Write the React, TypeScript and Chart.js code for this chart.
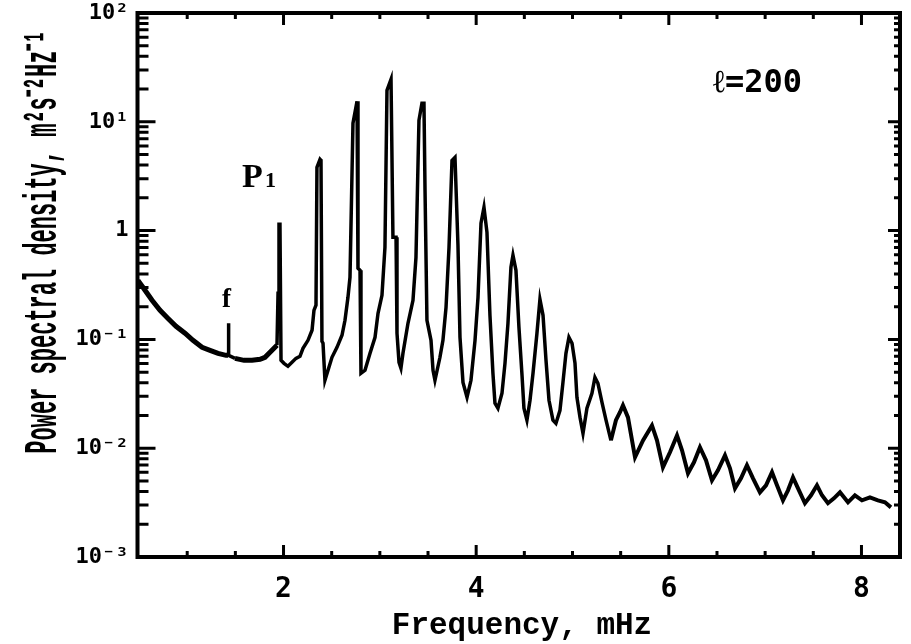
import { useEffect, useRef } from "react";
import { Chart, registerables } from "chart.js";

Chart.register(...registerables);

// Frequency (mHz) and power spectral density (m^2 s^-2 Hz^-1)
const frequency = [
  0.489, 0.562, 0.635, 0.718, 0.801, 0.884, 0.977, 1.06, 1.154, 1.237, 1.32, 1.403,
  1.424, 1.428, 1.432, 1.496, 1.59, 1.673, 1.756, 1.808, 1.86, 1.901, 1.932,
  1.943, 1.953, 1.963, 1.974, 2.005, 2.046, 2.088, 2.129, 2.171, 2.202, 2.254, 2.296,
  2.316, 2.337, 2.347, 2.379, 2.389, 2.399, 2.41, 2.43, 2.462, 2.503, 2.555, 2.607,
  2.638, 2.669, 2.69, 2.721, 2.763, 2.773, 2.794, 2.804, 2.846, 2.898, 2.95, 2.981,
  3.022, 3.053, 3.074, 3.116, 3.136, 3.168, 3.178, 3.199, 3.219, 3.24, 3.292, 3.344,
  3.375, 3.406, 3.437, 3.458, 3.469, 3.489, 3.531, 3.552, 3.572, 3.624, 3.655, 3.687,
  3.718, 3.749, 3.78, 3.811, 3.832, 3.863, 3.905, 3.946, 3.988, 4.019, 4.05, 4.081,
  4.112, 4.143, 4.174, 4.195, 4.226, 4.268, 4.299, 4.33, 4.361, 4.382, 4.413, 4.444,
  4.476, 4.496, 4.527, 4.559, 4.59, 4.631, 4.662, 4.694, 4.725, 4.756, 4.797, 4.828,
  4.87, 4.901, 4.932, 4.963, 4.995, 5.026, 5.046, 5.078, 5.109, 5.15, 5.202, 5.233,
  5.264, 5.306, 5.348, 5.399, 5.451, 5.493, 5.524, 5.576, 5.649, 5.732, 5.825, 5.877,
  5.939, 6.012, 6.085, 6.137, 6.199, 6.261, 6.323, 6.386, 6.448, 6.51, 6.583, 6.635,
  6.687, 6.749, 6.811, 6.874, 6.946, 7.009, 7.071, 7.123, 7.185, 7.237, 7.289, 7.351,
  7.413, 7.476, 7.538, 7.59, 7.652, 7.714, 7.777, 7.86, 7.932, 8.005, 8.088, 8.171,
  8.244, 8.306,
];

const psd = [
  0.349, 0.283, 0.229, 0.185, 0.156, 0.132, 0.114, 0.098, 0.0846, 0.0794, 0.0745, 0.0714,
  0.0714, 0.141, 0.0714, 0.067, 0.0642, 0.0642, 0.0656, 0.0685, 0.0761, 0.0828, 0.0883,
  0.265, 1.143, 1.143, 0.0642, 0.0603, 0.0566, 0.0616, 0.067, 0.0699, 0.0828, 0.0981, 0.1213,
  0.185, 0.206, 3.818, 4.521, 4.42, 0.096, 0.0921, 0.0421, 0.052, 0.0685, 0.0846, 0.1091,
  0.1498, 0.2437, 0.3722, 9.69, 15.43, 0.4502, 0.4316, 0.0488, 0.052, 0.0745, 0.1045, 0.1738,
  0.2543, 0.7023, 19.48, 24.58, 0.868, 0.868, 0.1138, 0.0616, 0.0543, 0.0745, 0.1406, 0.2287,
  0.5683, 10.32, 14.79, 14.79, 2.346, 0.1498, 0.0981, 0.052, 0.0421, 0.0685, 0.0981, 0.1972,
  0.7023, 4.42, 4.717, 0.7325, 0.1045, 0.0403, 0.0294, 0.0421, 0.0981, 0.2437, 1.167, 1.637,
  0.9647, 0.1665, 0.0488, 0.0259, 0.0233, 0.032, 0.0603, 0.1406, 0.4599, 0.5929, 0.4316, 0.1292,
  0.0468, 0.0233, 0.0181, 0.0276, 0.0488, 0.1138, 0.2336, 0.1665, 0.0642, 0.0276, 0.0181, 0.0169,
  0.0223, 0.0403, 0.0745, 0.1045, 0.0921, 0.0603, 0.0294, 0.0192, 0.0137, 0.0233, 0.032, 0.0448,
  0.0395, 0.0264, 0.0181, 0.0118, 0.0181, 0.0214, 0.0248, 0.0192, 0.00825, 0.0118, 0.0162, 0.0118,
  0.00668, 0.00917, 0.0131, 0.00957, 0.00588, 0.00742, 0.0102, 0.00774, 0.00507, 0.00626, 0.0086, 0.00654,
  0.00428, 0.00529, 0.00697, 0.00529, 0.00393, 0.00456, 0.00601, 0.00456, 0.00332, 0.0041, 0.0054, 0.0041,
  0.00312, 0.00369, 0.00456, 0.00369, 0.00312, 0.00346, 0.00393, 0.00318, 0.00369, 0.00332, 0.00354, 0.00332,
  0.00318, 0.00286,
];

const xMin = 0.484;
const xMax = 8.4;
const yMin = 1e-3;
const yMax = 1e2;

const xTickValues = [2, 4, 6, 8];
const xTickLabels = ["2", "4", "6", "8"];
const xMinorTicks = [1, 1.5, 2.5, 3, 3.5, 4.5, 5, 5.5, 6.5, 7, 7.5];
const yTickValues = [1e-3, 1e-2, 1e-1, 1, 10, 100];
const yTickLabels = ["10⁻³", "10⁻²", "10⁻¹", "1", "10¹", "10²"];
const yMinorMultipliers = [2, 3, 4, 5, 6, 7, 8, 9];

const yTitle = "Power spectral density, m²s⁻²Hz⁻¹";
const xTitle = "Frequency, mHz";
const degreeLabel = "ℓ=200";

const framePlugin = {
  id: "frameAndLabels",
  afterDraw(chart: any) {
    const { ctx, chartArea: a, scales } = chart;
    const xs = scales.x;
    const ys = scales.y;
    ctx.save();
    ctx.strokeStyle = "#000";
    ctx.fillStyle = "#000";
    ctx.lineCap = "butt";

    // inward ticks
    ctx.lineWidth = 3;
    ctx.beginPath();
    xTickValues.forEach((v) => {
      const p = xs.getPixelForValue(v);
      ctx.moveTo(p, a.bottom);
      ctx.lineTo(p, a.bottom - 12);
      ctx.moveTo(p, a.top);
      ctx.lineTo(p, a.top + 12);
    });
    xMinorTicks.forEach((v) => {
      const p = xs.getPixelForValue(v);
      ctx.moveTo(p, a.bottom);
      ctx.lineTo(p, a.bottom - 6);
      ctx.moveTo(p, a.top);
      ctx.lineTo(p, a.top + 6);
    });
    yTickValues.forEach((v) => {
      const p = ys.getPixelForValue(v);
      ctx.moveTo(a.left, p);
      ctx.lineTo(a.left + 18, p);
      ctx.moveTo(a.right, p);
      ctx.lineTo(a.right - 12, p);
    });
    yTickValues.slice(0, -1).forEach((d) => {
      yMinorMultipliers.forEach((m) => {
        const p = ys.getPixelForValue(d * m);
        ctx.moveTo(a.left, p);
        ctx.lineTo(a.left + 11, p);
        ctx.moveTo(a.right, p);
        ctx.lineTo(a.right - 6, p);
      });
    });
    ctx.stroke();

    // frame
    ctx.lineWidth = 4;
    ctx.strokeRect(a.left, a.top, a.right - a.left, a.bottom - a.top);

    // y title (stretched like the original bitmap font)
    ctx.save();
    ctx.font = 'bold 22px "Liberation Mono"';
    ctx.textAlign = "center";
    ctx.textBaseline = "alphabetic";
    ctx.translate(56, 242);
    ctx.rotate(-Math.PI / 2);
    ctx.scale(1, 2.1);
    ctx.fillText(yTitle, 0, 0);
    ctx.restore();

    // x title
    ctx.font = 'bold 31px "Liberation Mono"';
    ctx.textAlign = "center";
    ctx.textBaseline = "alphabetic";
    ctx.fillText(xTitle, 522, 634);

    // annotations
    ctx.textAlign = "left";
    ctx.font = 'bold 32px "DejaVu Sans Mono"';
    ctx.fillText(degreeLabel, 713, 92);

    ctx.font = 'bold 34px "Liberation Serif"';
    ctx.fillText("P", 242, 187);
    ctx.font = 'bold 22px "Liberation Serif"';
    ctx.fillText("1", 265, 187);

    ctx.font = 'bold 27px "Liberation Serif"';
    ctx.fillText("f", 222, 307);

    ctx.restore();
  },
};

export default function App() {
  const canvasRef = useRef<HTMLCanvasElement | null>(null);

  useEffect(() => {
    const canvas = canvasRef.current;
    if (!canvas) return;
    const points = frequency.map((f, i) => ({ x: f, y: psd[i] }));
    const chart = new Chart(canvas, {
      type: "line",
      data: {
        datasets: [
          {
            data: points,
            borderColor: "#000",
            borderWidth: 3.5,
            pointRadius: 0,
            tension: 0,
            fill: false,
            segment: {
              borderWidth: (c: any) => {
                const x0 = c.p0.parsed.x;
                if (x0 < 1.42 || (x0 >= 1.434 && x0 < 1.93)) return 5;
                if (x0 > 5.35) return 4;
                return 3.5;
              },
            },
          },
        ],
      },
      options: {
        animation: false,
        responsive: false,
        devicePixelRatio: 1,
        maintainAspectRatio: false,
        layout: { padding: { left: 0, top: 13, right: 11, bottom: 0 } },
        plugins: {
          legend: { display: false },
          tooltip: { enabled: false },
        },
        scales: {
          x: {
            type: "linear",
            min: xMin,
            max: xMax,
            grid: { display: false, drawTicks: false },
            border: { display: false },
            afterBuildTicks: (s: any) => {
              s.ticks = xTickValues.map((v) => ({ value: v }));
            },
            afterFit: (s: any) => {
              s.height = 87;
              s.paddingLeft = 0;
              s.paddingRight = 0;
            },
            ticks: {
              autoSkip: false,
              maxRotation: 0,
              padding: 16,
              color: "#000",
              font: { family: '"DejaVu Sans Mono"', size: 28, weight: "bold" },
              callback: (v: any) => {
                const i = xTickValues.indexOf(Number(v));
                return i >= 0 ? xTickLabels[i] : "";
              },
            },
          },
          y: {
            type: "logarithmic",
            min: yMin,
            max: yMax,
            grid: { display: false, drawTicks: false },
            border: { display: false },
            afterBuildTicks: (s: any) => {
              s.ticks = yTickValues.map((v) => ({ value: v }));
            },
            afterFit: (s: any) => {
              s.width = 137.5;
              s.paddingTop = 0;
              s.paddingBottom = 0;
            },
            ticks: {
              autoSkip: false,
              padding: 9,
              color: "#000",
              font: { family: '"DejaVu Sans Mono"', size: 22, weight: "bold" },
              callback: (v: any) => {
                const i = yTickValues.findIndex((t) => Math.abs(t - Number(v)) / t < 1e-6);
                return i >= 0 ? yTickLabels[i] : "";
              },
            },
          },
        },
      },
      plugins: [framePlugin],
    });
    return () => chart.destroy();
  }, []);

  return (
    <div>
      <canvas
        ref={canvasRef}
        width={911}
        height={644}
        style={{ position: "fixed", left: 0, top: 0, width: 911, height: 644 }}
      />
    </div>
  );
}
